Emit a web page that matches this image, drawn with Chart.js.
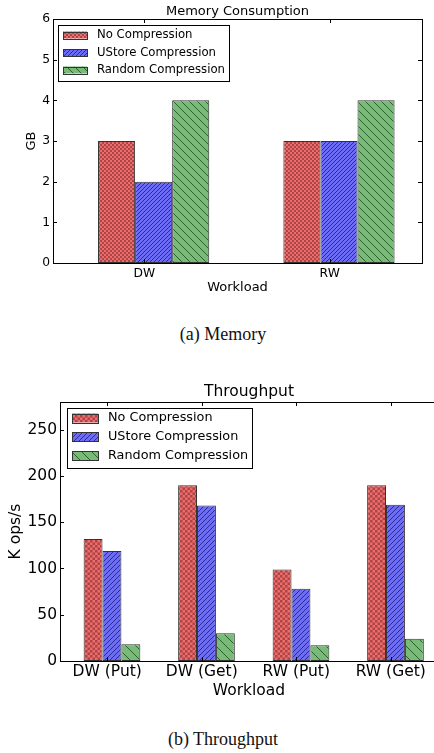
<!DOCTYPE html>
<html>
<head>
<meta charset="utf-8">
<title>Memory and Throughput</title>
<script src="https://cdn.jsdelivr.net/npm/chart.js@4.4.1/dist/chart.umd.min.js"></script>
<style>
html, body { margin: 0; padding: 0; background: #fff; overflow: hidden; width: 434px; height: 753px; }
#mem_wrap { position: absolute; left: 0; top: 0; width: 434px; height: 300px; }
#tp_wrap { position: absolute; left: 0; top: 380px; width: 450px; height: 330px; }
.caption { position: absolute; left: 0; width: 446px; text-align: center; color: #111;
           font-family: "Liberation Serif", "Times New Roman", serif; font-size: 18px; line-height: 21px; }
</style>
</head>
<body>
<div id="mem_wrap"><canvas id="memory_chart" width="434" height="300"></canvas></div>
<div class="caption" style="top:324px">(a) Memory</div>
<div id="tp_wrap"><canvas id="throughput_chart" width="450" height="330"></canvas></div>
<div class="caption" style="top:729px">(b) Throughput</div>
<script>
// data
var series_names = ['No Compression', 'UStore Compression', 'Random Compression'];

var mem_workloads = ['DW', 'RW'];
var mem_no_comp = [3, 3];
var mem_ustore = [2, 3];
var mem_random = [4, 4];
var mem_y_ticks = [0, 1, 2, 3, 4, 5, 6];

var tp_workloads = ['DW (Put)', 'DW (Get)', 'RW (Put)', 'RW (Get)'];
var tp_no_comp = [132, 190, 99, 190];
var tp_ustore = [119, 168, 78, 169];
var tp_random = [18, 30, 17, 24];
var tp_y_ticks = [0, 50, 100, 150, 200, 250];

Chart.defaults.font.family = "'DejaVu Sans', sans-serif";
Chart.defaults.color = '#000';

// hatch tiles, like matplotlib's 'xxxx', '////' and '\\'
function makePattern(kind, size){
    var c = document.createElement('canvas');
    c.width = size;
    c.height = size;
    var g = c.getContext('2d');
    if (kind == 'check') {
        var h = size / 2;
        g.fillStyle = '#f06b6b';
        g.fillRect(0, 0, size, size);
        g.fillStyle = '#aa4646';
        g.fillRect(0, 0, h, h);
        g.fillRect(h, h, h, h);
    } else {
        g.fillStyle = kind == 'fwd' ? '#6c6cf6' : '#78bb78';
        g.fillRect(0, 0, size, size);
        g.strokeStyle = kind == 'fwd' ? '#2c2c8e' : '#2f612f';
        g.lineWidth = 1;
        g.beginPath();
        for (var k = -1; k <= 1; k++) {
            if (kind == 'fwd') {
                g.moveTo(k * size, size);
                g.lineTo(k * size + size, 0);
            } else {
                g.moveTo(k * size, 0);
                g.lineTo(k * size + size, size);
            }
        }
        g.stroke();
    }
    return g.createPattern(c, 'repeat');
}

function toPoints(values){
    var pts = [];
    for (var i = 0; i < values.length; i++) {
        pts.push({x: i, y: values[i]});
    }
    return pts;
}

// frame, inward ticks, title and legend drawn the matplotlib way
var mplPlugin = {
    id: 'mpl',
    afterDraw: function(chart, args, opts){
        var ctx = chart.ctx;
        var a = chart.chartArea;
        var xs = chart.scales.x;
        var ys = chart.scales.y;
        ctx.save();
        ctx.strokeStyle = '#000';
        ctx.lineWidth = 1;
        ctx.strokeRect(Math.round(a.left) + 0.5, Math.round(a.top) + 0.5,
            Math.round(a.right - a.left), Math.round(a.bottom - a.top));
        ctx.beginPath();
        xs.ticks.forEach(function(t){
            var px = Math.round(xs.getPixelForValue(t.value)) + 0.5;
            ctx.moveTo(px, a.top);
            ctx.lineTo(px, a.top + opts.tick);
            ctx.moveTo(px, a.bottom);
            ctx.lineTo(px, a.bottom - opts.tick);
        });
        ys.ticks.forEach(function(t){
            var py = Math.round(ys.getPixelForValue(t.value)) + 0.5;
            ctx.moveTo(a.left, py);
            ctx.lineTo(a.left + opts.tick, py);
            ctx.moveTo(a.right, py);
            ctx.lineTo(a.right - opts.tick, py);
        });
        ctx.stroke();

        ctx.fillStyle = '#000';
        ctx.font = opts.titleSize + "px 'DejaVu Sans'";
        ctx.textAlign = 'center';
        ctx.textBaseline = 'alphabetic';
        ctx.fillText(opts.title, (a.left + a.right) / 2, a.top - opts.titleGap);

        var lg = opts.legend;
        ctx.fillStyle = '#fff';
        ctx.fillRect(lg.x, lg.y, lg.w, lg.h);
        ctx.strokeRect(lg.x + 0.5, lg.y + 0.5, lg.w, lg.h);
        ctx.font = lg.size + "px 'DejaVu Sans'";
        ctx.textAlign = 'left';
        ctx.textBaseline = 'middle';
        chart.data.datasets.forEach(function(ds, i){
            var cy = lg.rows[i];
            ctx.fillStyle = ds.backgroundColor;
            ctx.fillRect(lg.px, cy - lg.ph / 2, lg.pw, lg.ph);
            ctx.strokeStyle = '#333';
            ctx.strokeRect(lg.px + 0.5, Math.round(cy - lg.ph / 2) + 0.5, lg.pw, lg.ph);
            ctx.fillStyle = '#000';
            ctx.fillText(ds.label, lg.tx, cy);
        });
        ctx.restore();
    }
};

function buildChart(id, cfg){
    var ctx = document.getElementById(id);
    var values = [cfg.no_comp, cfg.ustore, cfg.random];
    var fills = [makePattern('check', cfg.tiles[0]), makePattern('fwd', cfg.tiles[1]), makePattern('back', cfg.tiles[2])];
    var datasets = [];
    for (var i = 0; i < 3; i++) {
        datasets.push({
            label: series_names[i],
            data: toPoints(values[i]),
            backgroundColor: fills[i],
            borderColor: '#333',
            borderWidth: 1,
            borderSkipped: false,
            categoryPercentage: 0.6,
            barPercentage: 1
        });
    }
    return new Chart(ctx, {
        type: 'bar',
        data: { datasets: datasets },
        plugins: [mplPlugin],
        options: {
            responsive: false,
            animation: false,
            layout: { padding: cfg.padding },
            scales: {
                x: {
                    type: 'linear',
                    min: cfg.xmin,
                    max: cfg.xmax,
                    offset: false,
                    grid: { display: false, drawTicks: false, offset: false },
                    border: { display: false },
                    afterBuildTicks: function(s){
                        s.ticks = cfg.labels.map(function(w, i){ return {value: i - 0.05}; });
                    },
                    ticks: {
                        autoSkip: false,
                        maxRotation: 0,
                        padding: cfg.xpad,
                        font: { size: cfg.tickSize },
                        callback: function(v, i){ return cfg.labels[i]; }
                    },
                    title: { display: true, text: 'Workload', font: { size: cfg.labelSize },
                             padding: { top: 0, bottom: cfg.xtitlePad } },
                    afterFit: function(s){ s.height = cfg.xheight; }
                },
                y: {
                    min: 0,
                    max: cfg.ymax,
                    grid: { display: false, drawTicks: false },
                    border: { display: false },
                    afterBuildTicks: function(s){
                        s.ticks = cfg.yticks.map(function(v){ return {value: v}; });
                    },
                    ticks: { padding: 3, font: { size: cfg.tickSize } },
                    title: { display: true, text: cfg.ylabel, font: { size: cfg.labelSize },
                             padding: { top: cfg.ytitlePad, bottom: 0 } },
                    afterFit: function(s){ s.width = cfg.ywidth; }
                }
            },
            plugins: {
                legend: { display: false },
                tooltip: { enabled: false },
                mpl: cfg.mpl
            }
        }
    });
}

var memory_chart = buildChart('memory_chart', {
    labels: mem_workloads, no_comp: mem_no_comp, ustore: mem_ustore, random: mem_random,
    yticks: mem_y_ticks, ymax: 6, ylabel: 'GB',
    tiles: [4, 4, 8],
    padding: { top: 19, right: 12, left: 0, bottom: 0 },
    xmin: -0.543, xmax: 1.448, xheight: 37, ywidth: 53,
    tickSize: 12.3, labelSize: 13, xpad: 3, xtitlePad: 5, ytitlePad: 24,
    mpl: {
        tick: 4, title: 'Memory Consumption', titleSize: 13, titleGap: 4,
        legend: { x: 58, y: 25, w: 171, h: 56, px: 63, pw: 24, ph: 7, tx: 97, size: 11.7,
                  rows: [35, 52.5, 70] }
    }
});

var throughput_chart = buildChart('throughput_chart', {
    labels: tp_workloads, no_comp: tp_no_comp, ustore: tp_ustore, random: tp_random,
    yticks: tp_y_ticks, ymax: 280, ylabel: 'K ops/s',
    tiles: [5, 5, 10],
    padding: { top: 22, right: 12, left: 0, bottom: 0 },
    xmin: -0.55, xmax: 3.45, xheight: 49, ywidth: 60,
    tickSize: 15.5, labelSize: 15.5, xpad: 2, xtitlePad: 9.7, ytitlePad: 6.7,
    mpl: {
        tick: 4, title: 'Throughput', titleSize: 15.5, titleGap: 6,
        legend: { x: 67, y: 28, w: 185, h: 60, px: 72, pw: 26, ph: 9, tx: 108, size: 12.8,
                  rows: [38, 56.7, 75.7] }
    }
});
</script>
</body>
</html>
